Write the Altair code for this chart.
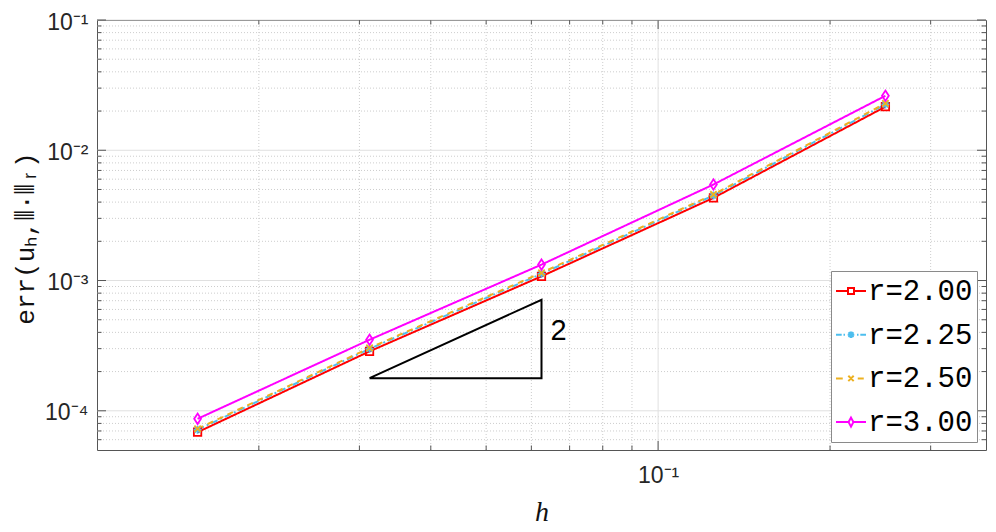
import altair as alt
import pandas as pd
import math

# ---------------- data ----------------
h = [1/64, 1/32, 1/16, 1/8, 1/4]
series_names = ["r=2.00", "r=2.25", "r=2.50", "r=3.00"]
err_r200 = [6.85e-5, 2.86e-4, 1.077e-3, 4.31e-3, 2.16e-2]
err_r225 = [7.16e-5, 2.99e-4, 1.126e-3, 4.50e-3, 2.25e-2]
err_r250 = [7.28e-5, 3.04e-4, 1.146e-3, 4.58e-3, 2.29e-2]
err_r300 = [8.68e-5, 3.51e-4, 1.325e-3, 5.46e-3, 2.62e-2]
all_err = [err_r200, err_r225, err_r250, err_r300]

colors = ["#FF0000", "#4DBEEE", "#EDB120", "#FF00FF"]
dashes = [[1, 0], [7, 3, 2, 3], [6, 5], [1, 0]]

x_domain = [1/64/1.5, 1/4*1.5]
y_domain = [5e-5, 1e-1]

x_major = [0.1]
x_major_labels = ["10⁻¹"]
x_minor = [0.02, 0.03, 0.04, 0.05, 0.06, 0.07, 0.08, 0.09, 0.2, 0.3]
y_major = [1e-4, 1e-3, 1e-2, 1e-1]
y_major_labels = ["10⁻⁴", "10⁻³", "10⁻²", "10⁻¹"]
y_minor = [6e-5, 7e-5, 8e-5, 9e-5,
           2e-4, 3e-4, 4e-4, 5e-4, 6e-4, 7e-4, 8e-4, 9e-4,
           2e-3, 3e-3, 4e-3, 5e-3, 6e-3, 7e-3, 8e-3, 9e-3,
           2e-2, 3e-2, 4e-2, 5e-2, 6e-2, 7e-2, 8e-2, 9e-2]

tri_h = [1/32, 1/16, 1/16, 1/32]
tri_err = [1.78e-4, 1.78e-4, 7.12e-4, 1.78e-4]
slope_text = ["2"]
slope_h = [1/16]
slope_err = [4.1e-4]

x_title = "h"
y_title = "err(uₕ,⦀·⦀ᵣ)"

# ---------------- geometry / style ----------------
W, H = 889, 430
MAJ, MIN = 9, 4.5

marker_paths = [
    "square",
    "M-1,0H1M0,-1V1M-0.72,-0.72L0.72,0.72M-0.72,0.72L0.72,-0.72",
    "M-0.8,-0.8L0.8,0.8M-0.8,0.8L0.8,-0.8",
    "M0,-1.3L0.85,0L0,1.3L-0.85,0Z",
]
marker_sizes = [55, 64, 64, 64]

legend_paths = [
    "M-1,0H-0.2M0.2,0H1M-0.2,-0.2H0.2V0.2H-0.2Z",
    "M-1,0H-0.62M-0.5,0H-0.4M0.4,0H0.5M0.62,0H1"
    "M-0.22,0H0.22M0,-0.22V0.22M-0.16,-0.16L0.16,0.16M-0.16,0.16L0.16,-0.16",
    "M-1,0H-0.55M0.45,0H0.85M-0.18,-0.18L0.18,0.18M-0.18,0.18L0.18,-0.18",
    "M-1,0H-0.16M0.16,0H1M0,-0.3L0.16,0L0,0.3L-0.16,0Z",
]

xs = alt.Scale(type="log", domain=x_domain, nice=False)
ys = alt.Scale(type="log", domain=y_domain, nice=False)


def lab_expr(vals, labs):
    expr = "''"
    for v, l in zip(vals, labs):
        expr = f"round(log(datum.value)/LN10) == {round(math.log10(v))} ? '{l}' : ({expr})"
    return expr


x_axis = alt.Axis(
    values=x_major, labelExpr=lab_expr(x_major, x_major_labels),
    grid=False, ticks=False, domain=False, labelOverlap=False,
    labelFont="Liberation Sans", labelFontSize=23, labelColor="#262626",
    labelPadding=14, labelBaseline="top",
    title=x_title, titleFont="Liberation Serif", titleFontStyle="italic",
    titleFontWeight="normal", titleFontSize=28, titleColor="#111111",
    titleX=W / 2, titleY=70, titleBaseline="alphabetic", titleAlign="center")
y_axis = alt.Axis(
    values=y_major, labelExpr=lab_expr(y_major, y_major_labels),
    grid=False, ticks=False, domain=False, labelOverlap=False,
    labelFont="Liberation Sans", labelFontSize=23, labelColor="#262626",
    labelPadding=9, labelBaseline="middle", labelOffset=2, labelFlush=False,
    title=y_title, titleFont="Liberation Mono", titleFontSize=26,
    titleFontWeight="normal", titleColor="#111111", titleAngle=270,
    titleX=-72, titleY=H / 2 + 3, titleBaseline="middle", titleAlign="center")

rows = []
for name, errs in zip(series_names, all_err):
    for hv, ev in zip(h, errs):
        rows.append({"series": name, "h": hv, "err": ev})
df = pd.DataFrame(rows)

df_xmin = pd.DataFrame({"h": x_minor})
df_xmaj = pd.DataFrame({"h": x_major})
df_ymin = pd.DataFrame({"err": y_minor})
df_ymaj = pd.DataFrame({"err": y_major})
df_tri = pd.DataFrame({"h": tri_h, "err": tri_err, "i": list(range(len(tri_h)))})
df_slope = pd.DataFrame({"h": slope_h, "err": slope_err, "t": slope_text})

X = lambda: alt.X("h:Q", scale=xs, axis=x_axis)
Y = lambda: alt.Y("err:Q", scale=ys, axis=y_axis)

minor_col = "#cdcdcd"
major_col = "#e0e0e0"
tick_col = "#555555"

grid_xmin = alt.Chart(df_xmin).mark_rule(color=minor_col, strokeDash=[1, 2], strokeWidth=1).encode(x=X())
grid_ymin = alt.Chart(df_ymin).mark_rule(color=minor_col, strokeDash=[1, 2], strokeWidth=1).encode(y=Y())
grid_xmaj = alt.Chart(df_xmaj).mark_rule(color=major_col, strokeWidth=1).encode(x=X())
grid_ymaj = alt.Chart(df_ymaj).mark_rule(color=major_col, strokeWidth=1).encode(y=Y())

ticks = []
for d, L in ((df_ymaj, MAJ), (df_ymin, MIN)):
    ticks.append(alt.Chart(d).mark_rule(color=tick_col, strokeWidth=1).encode(
        y=Y(), x=alt.value(0), x2=alt.value(L)))
    ticks.append(alt.Chart(d).mark_rule(color=tick_col, strokeWidth=1).encode(
        y=Y(), x=alt.value(W - L), x2=alt.value(W)))
for d, L in ((df_xmaj, MAJ), (df_xmin, MIN)):
    ticks.append(alt.Chart(d).mark_rule(color=tick_col, strokeWidth=1).encode(
        x=X(), y=alt.value(H - L), y2=alt.value(H)))
    ticks.append(alt.Chart(d).mark_rule(color=tick_col, strokeWidth=1).encode(
        x=X(), y=alt.value(0), y2=alt.value(L)))

lines = alt.Chart(df).mark_line(strokeWidth=2).encode(
    x=X(), y=Y(),
    color=alt.Color("series:N", scale=alt.Scale(domain=series_names, range=colors), legend=None),
    strokeDash=alt.StrokeDash("series:N", scale=alt.Scale(domain=series_names, range=dashes), legend=None),
)

points = []
for name, col, shp, sz in zip(series_names, colors, marker_paths, marker_sizes):
    points.append(alt.Chart(df).transform_filter(alt.datum.series == name).mark_point(
        shape=shp, size=sz, filled=False, color=col, strokeWidth=1.8, opacity=1).encode(x=X(), y=Y()))

triangle = alt.Chart(df_tri).mark_line(color="black", strokeWidth=2).encode(
    x=X(), y=Y(), order="i:Q")
slope_lbl = alt.Chart(df_slope).mark_text(
    font="Liberation Sans", fontSize=29, align="left", baseline="middle", dx=9, color="black"
).encode(x=X(), y=Y(), text="t:N")

legend_layer = alt.Chart(df).transform_filter("datum.h < 0").mark_point(filled=False, opacity=1).encode(
    x=X(), y=Y(),
    color=alt.Color("series:N", scale=alt.Scale(domain=series_names, range=colors),
                    legend=alt.Legend(
                        title=None, orient="none", legendX=734, legendY=251,
                        direction="vertical", padding=4, rowPadding=12.7,
                        labelFont="Liberation Mono", labelFontSize=29, labelColor="#000000",
                        labelOffset=1, symbolSize=900, symbolStrokeWidth=2,
                        symbolOpacity=1,
                        fillColor="white", strokeColor="#8a8a8a", cornerRadius=0)),
    shape=alt.Shape("series:N", scale=alt.Scale(domain=series_names, range=legend_paths)),
)

chart = alt.layer(
    grid_xmin, grid_ymin, grid_xmaj, grid_ymaj, *ticks,
    lines, *points, triangle, slope_lbl, legend_layer
).resolve_scale(color="independent", shape="independent").properties(
    width=W, height=H,
    padding={"left": 89, "top": 12, "right": 2, "bottom": 82},
    autosize=alt.AutoSizeParams(type="none"),
).configure_view(stroke="#555555", strokeWidth=1)

chart.save("out.html", embed_options={"renderer": "svg", "actions": False})
